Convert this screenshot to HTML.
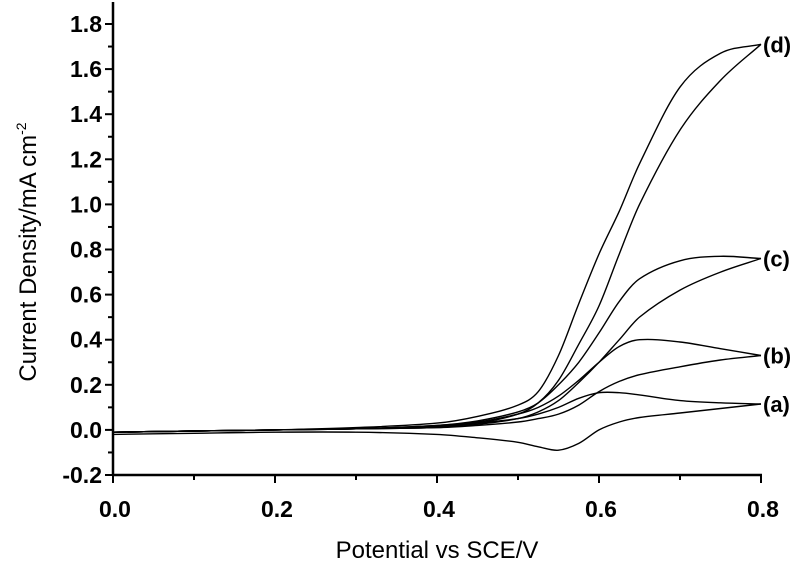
<!DOCTYPE html>
<html><head><meta charset="utf-8"><style>
html,body{margin:0;padding:0;background:#fff;}
svg{display:block;font-family:"Liberation Sans",Arial,sans-serif;}
</style></head><body>
<svg id="chart" width="800" height="564">
<g id="axes"></g>
<g id="curves"></g>
<text x="437" y="558" font-size="24" text-anchor="middle">Potential vs SCE/V</text>
<text transform="translate(36,252) rotate(-90)" font-size="24" text-anchor="middle">Current Density/mA cm<tspan dy="-10" font-size="14">-2</tspan></text>
</svg>
<script>
const potentials=[0,0.1,0.2,0.3,0.4,0.45,0.5,0.525,0.55,0.575,0.6,0.625,0.65,0.7,0.75,0.8];
const aFwd=[-0.01,-0.005,0,0.005,0.015,0.03,0.05,0.07,0.10,0.14,0.165,0.165,0.155,0.13,0.12,0.115];
const aRev=[-0.02,-0.015,-0.01,-0.01,-0.02,-0.035,-0.055,-0.075,-0.09,-0.06,0.0,0.035,0.055,0.075,0.095,0.115];
const bFwd=[-0.01,-0.005,0,0.005,0.02,0.035,0.07,0.10,0.15,0.22,0.30,0.37,0.40,0.39,0.36,0.33];
const bRev=[-0.01,-0.005,0,0.005,0.01,0.02,0.035,0.05,0.07,0.11,0.17,0.215,0.245,0.28,0.31,0.33];
const cFwd=[-0.01,-0.005,0,0.005,0.02,0.04,0.08,0.12,0.20,0.30,0.43,0.57,0.67,0.75,0.77,0.76];
const cRev=[-0.01,-0.005,0,0.005,0.01,0.025,0.05,0.08,0.13,0.21,0.30,0.40,0.50,0.62,0.70,0.76];
const dFwd=[-0.01,-0.005,0,0.01,0.03,0.06,0.11,0.17,0.33,0.56,0.78,0.97,1.18,1.52,1.67,1.71];
const dRev=[-0.01,-0.005,0,0.005,0.015,0.03,0.07,0.12,0.22,0.38,0.55,0.78,1.00,1.33,1.55,1.71];
const seriesLabels=["(a)","(b)","(c)","(d)"];
const xTicks=["0.0","0.2","0.4","0.6","0.8"];
const yTicks=["-0.2","0.0","0.2","0.4","0.6","0.8","1.0","1.2","1.4","1.6","1.8"];

const NS="http://www.w3.org/2000/svg";
const X0=113,X1=761,Y0=475,Y1=24;
function xs(p){return X0+p/0.8*(X1-X0);}
function ys(v){return Y0-(v+0.2)/2.0*(Y0-Y1);}
function mk(t,a,parent){const e=document.createElementNS(NS,t);for(const k in a)e.setAttribute(k,a[k]);parent.appendChild(e);return e;}
const axes=document.getElementById('axes');
const curves=document.getElementById('curves');
let e=mk('line',{x1:X0,y1:2,x2:X0,y2:Y0+1,stroke:'#000','stroke-width':2.5},axes);


e=mk('line',{x1:X0-1,y1:Y0,x2:X1+1,y2:Y0,stroke:'#000','stroke-width':2.5},axes);


xTicks.forEach((t,i)=>{
  const p=parseFloat(t),x=xs(p);
  let l=mk('line',{x1:x,y1:Y0,x2:x,y2:Y0+8,stroke:'#000','stroke-width':2},axes);
  
  
  if(i<xTicks.length-1){let m=mk('line',{x1:xs(p+0.1),y1:Y0,x2:xs(p+0.1),y2:Y0+5,stroke:'#000','stroke-width':2},axes);
  
  }
  let tx=mk('text',{x:x+2,y:Y0+42,'font-size':23,'font-weight':'bold','text-anchor':'middle'},axes);
  tx.textContent=t;
  
  
});
yTicks.forEach((t,i)=>{
  const v=parseFloat(t),y=ys(v);
  let l=mk('line',{x1:X0,y1:y,x2:X0-8,y2:y,stroke:'#000','stroke-width':2},axes);
  
  
  if(i<yTicks.length-1){let m=mk('line',{x1:X0,y1:ys(v+0.1),x2:X0-5,y2:ys(v+0.1),stroke:'#000','stroke-width':2},axes);
  
  }
  let tx=mk('text',{x:X0-11,y:y+8,'font-size':23,'font-weight':'bold','text-anchor':'end'},axes);
  tx.textContent=t;
  
  
});
function smooth(pts){
  const n=pts.length,m=[];
  for(let i=0;i<n;i++){
    const a=pts[Math.max(0,i-1)],b=pts[Math.min(n-1,i+1)];
    m.push((b[1]-a[1])/(b[0]-a[0]));
  }
  let d='M'+pts[0][0].toFixed(1)+','+pts[0][1].toFixed(1);
  for(let i=0;i<n-1;i++){
    const p1=pts[i],p2=pts[i+1],dx=(p2[0]-p1[0])/3;
    d+=' C'+(p1[0]+dx).toFixed(1)+','+(p1[1]+m[i]*dx).toFixed(1)+' '+(p2[0]-dx).toFixed(1)+','+(p2[1]-m[i+1]*dx).toFixed(1)+' '+p2[0].toFixed(1)+','+p2[1].toFixed(1);
  }
  return d;
}
const all=[[aFwd,aRev],[bFwd,bRev],[cFwd,cRev],[dFwd,dRev]];
all.forEach((s,k)=>{
  const f=potentials.map((p,i)=>[xs(p),ys(s[0][i])]);
  const r=potentials.map((p,i)=>[xs(p),ys(s[1][i])]);
  let pf=mk('path',{d:smooth(f),fill:'none',stroke:'#000','stroke-width':1.4},curves);
  
  
  let pr=mk('path',{d:smooth(r),fill:'none',stroke:'#000','stroke-width':1.4},curves);
  
  
  const last=s[0][s[0].length-1];
  let lb=mk('text',{x:xs(0.8)+2,y:ys(last)+8,'font-size':22,'font-weight':'bold'},curves);
  lb.textContent=seriesLabels[k];
  
  
});
</script>
</body></html>
